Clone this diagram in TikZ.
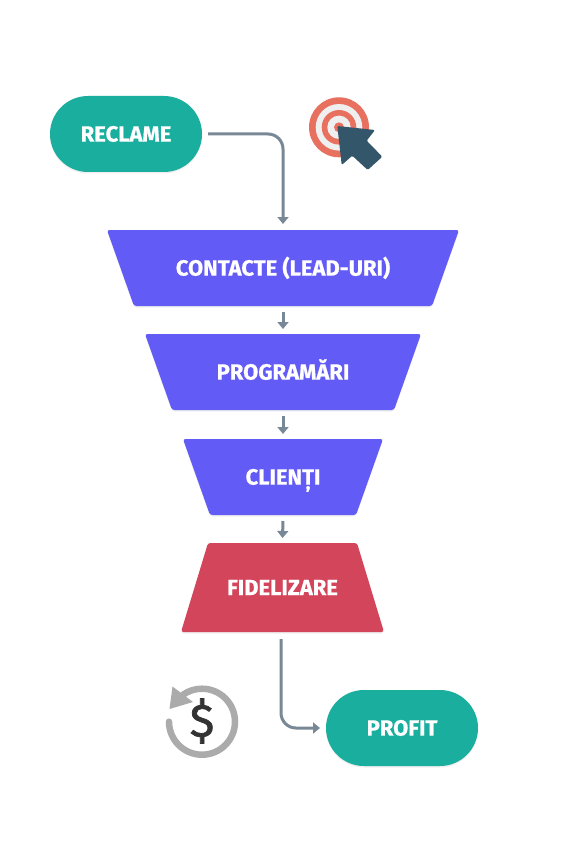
\documentclass[tikz,border=0pt]{standalone}
\usepackage{fontspec}
\setmainfont[BoldFeatures={FakeBold=0.7}]{Fira Sans}
\newfontfamily\dfont[FakeBold=1.6]{Fira Sans}
\usetikzlibrary{shadows,arrows.meta,backgrounds}
\definecolor{teal1}{HTML}{1AAE9F}
\definecolor{violet1}{HTML}{635BF5}
\definecolor{red1}{HTML}{D3455B}
\definecolor{conn}{HTML}{788896}
\definecolor{tgt}{HTML}{E8705F}
\definecolor{ringw}{HTML}{EFEFEF}
\definecolor{curs}{HTML}{34566A}
\definecolor{grey1}{HTML}{ABABAB}
\definecolor{dollar}{HTML}{333333}
\tikzset{
  softshadow/.style={drop shadow={opacity=.12,shadow xshift=0pt,shadow yshift=-1.5pt}},
  lbl/.style={inner sep=0pt,outer sep=0pt,font=\bfseries\fontsize{22}{24}\selectfont,text=white,text height=15.2pt,text depth=0pt,align=center},
  pill/.style={lbl,fill=teal1,rounded corners=38pt,minimum width=152pt,minimum height=76pt,softshadow},
  funnel/.style={lbl,minimum height=76pt},
  tshape/.style={rounded corners=2.5pt,softshadow},
  conline/.style={draw=conn,line width=3pt,rounded corners=15pt,-{Triangle[length=7pt,width=11pt]}},
}
\begin{document}
\begin{tikzpicture}[x=1pt,y=-1pt]
\useasboundingbox (0,0) rectangle (564,861);
\node[pill] (reclame) at (126,134) {RECLAME};
\node[pill] (profit) at (402,728) {PROFIT};
\node[funnel,minimum width=352pt] (contacte) at (283,268) {CONTACTE (LEAD-URI)};
\node[funnel,minimum width=276pt] (programari) at (283,372) {PROGRAMĂRI};
\node[funnel,minimum width=200pt] (clienti) at (283,477) {CLIENȚI};
\node[funnel,minimum height=89pt,minimum width=203pt] (fidelizare) at (282.5,587.5) {FIDELIZARE};
\begin{scope}[on background layer]
\fill[white] (0,0) rectangle (564,861);
\fill[violet1,tshape] (contacte.north west) -- (contacte.north east) -- ([xshift=-27pt]contacte.south east) -- ([xshift=27pt]contacte.south west) -- cycle;
\fill[violet1,tshape] (programari.north west) -- (programari.north east) -- ([xshift=-27pt]programari.south east) -- ([xshift=27pt]programari.south west) -- cycle;
\fill[violet1,tshape] (clienti.north west) -- (clienti.north east) -- ([xshift=-27pt]clienti.south east) -- ([xshift=27pt]clienti.south west) -- cycle;
\fill[red1,tshape] ([xshift=27pt]fidelizare.north west) -- ([xshift=-27pt]fidelizare.north east) -- (fidelizare.south east) -- (fidelizare.south west) -- cycle;
\end{scope}
\coordinate (cs) at (208,134);
\coordinate (fs) at (281,639);
\draw[conline] (cs) -| ([yshift=6pt]contacte.north);
\draw[conline,shorten <=6pt,shorten >=5pt] (contacte.south) -- (programari.north);
\draw[conline,shorten <=6pt,shorten >=5pt] (programari.south) -- (clienti.north);
\draw[conline,shorten <=6pt,shorten >=5pt] (clienti.south) -- (fidelizare.north);
\draw[conline] (fs) |- ([xshift=-6pt]profit.west);
% target
\fill[tgt] (339,127.3) circle (30);
\fill[ringw] (339,127.3) circle (23.3);
\fill[tgt] (339,127.3) circle (17.3);
\fill[ringw] (339,127.3) circle (11.7);
\fill[tgt] (339,127.3) circle (5);
% cursor
\fill[curs,rounded corners=1.2pt] (337.3,126) -- (375,130) -- (366.7,140.7) -- (382.3,156.7) -- (367.7,170) -- (352.3,155.7) -- (341.7,165) -- cycle;
% dollar icon
\draw[grey1,line width=6.5pt,line cap=round] (169,721.7) arc (180:-125:33);
\fill[grey1] (172.5,686.5) -- (169.5,709) -- (193,702) -- cycle;
\node[text=dollar,inner sep=0pt,font=\dfont\fontsize{46}{50}\selectfont] (dl) at (202,721) {\$};
\end{tikzpicture}
\end{document}
